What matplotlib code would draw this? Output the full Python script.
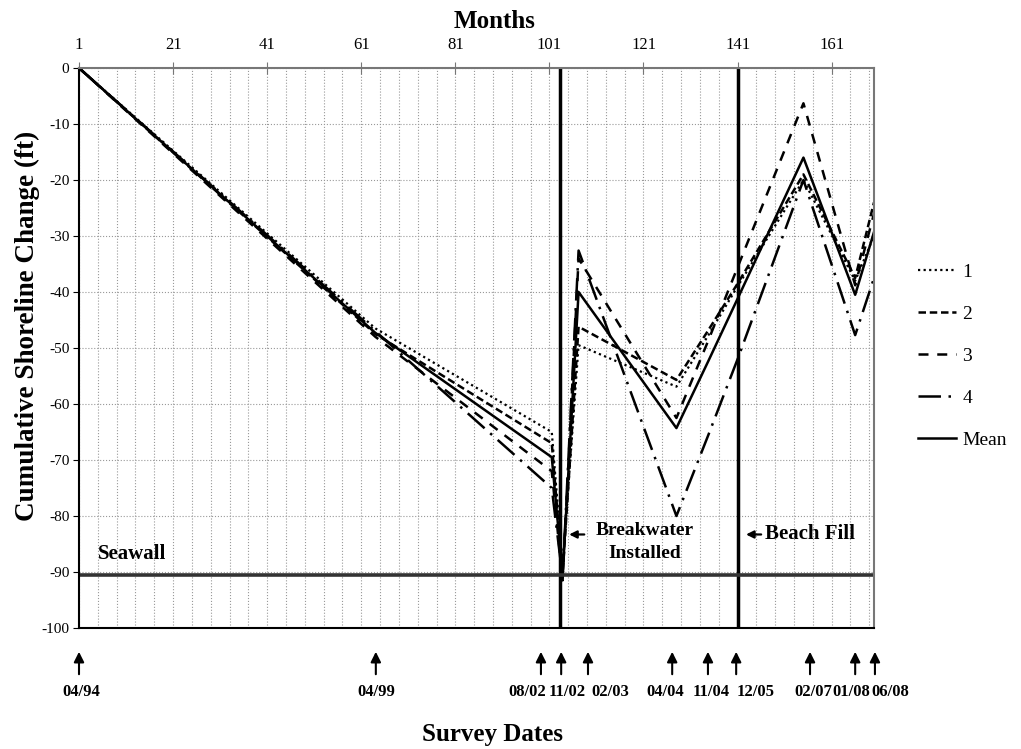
import numpy as np
import matplotlib
matplotlib.use("Agg")
import matplotlib.pyplot as plt
import matplotlib.transforms as mtransforms

plt.rcParams['font.family'] = ['Liberation Serif', 'DejaVu Serif']
plt.rcParams['axes.unicode_minus'] = False

# survey months (x) and cumulative shoreline change (ft) per profile
months = [1, 64, 101.5, 103.8, 107.2, 128, 134.8, 141, 155, 166, 170]
s1 = [0, -46.5, -65, -89, -49.5, -56.9, -47.7, -39, -20, -38, -30]
s2 = [0, -47.5, -67, -90.5, -46.2, -55.7, -46.8, -38.5, -19, -37.5, -24]
s3 = [0, -48, -72, -91.5, -34, -62.5, -48.6, -35.6, -6.3, -38.8, -26]
s4 = [0, -47, -75, -91, -32.6, -80, -65.5, -52, -20, -47.7, -37.5]
mean = [0, -47.3, -69.5, -90.5, -40, -64.3, -52.3, -41.2, -16, -40.5, -29.3]

breakwater_month = 103.3
beachfill_month = 141
seawall_level = -90.5

survey_labels = ['04/94', '04/99', '08/02', '11/02', '02/03', '04/04',
                 '11/04', '12/05', '02/07', '01/08', '06/08']
arrow_x = [1, 64.1, 99.2, 103.5, 109.2, 127.1, 134.7, 140.7, 156.4, 166.0, 170.2]
label_x = [1.4, 64.1, 96.2, 104.8, 113.9, 125.6, 135.4, 144.9, 157.0, 165.1, 173.4]

fig = plt.figure(figsize=(10.21, 7.49), dpi=100)
ax = fig.add_axes([79/1021, 1-628/749, 795/1021, 560/749])

ax.plot(months, s1, color='black', lw=1.6, ls=(0, (1, 1.5)), label='1')
ax.plot(months, s2, color='black', lw=1.8, ls=(0, (3, 1.5)), label='2')
ax.plot(months, s3, color='black', lw=1.8, ls=(0, (4, 3.5)), label='3')
ax.plot(months, s4, color='black', lw=1.8, ls=(0, (9, 3, 1, 3)), label='4')
ax.plot(months, mean, color='black', lw=1.8, label='Mean')

ax.axvline(breakwater_month, color='black', lw=2.5)
ax.axvline(beachfill_month, color='black', lw=2.5)
ax.axhline(seawall_level, color='#333333', lw=2.6)

ax.set_xlim(1, 170)
ax.set_ylim(-100, 0)
ax.xaxis.tick_top()
ax.set_xticks(np.arange(1, 171, 20))
ax.set_xticks(np.arange(1, 171, 4), minor=True)
ax.tick_params(axis='x', which='major', direction='inout', length=8, color='#777777',
               labelsize=12, pad=7)
ax.tick_params(axis='x', which='minor', length=0)
ax.set_yticks(np.arange(-100, 1, 10))
ax.tick_params(axis='y', direction='out', length=4, labelsize=11, pad=3)
ax.grid(which='both', axis='x', ls=':', color='#999999', lw=0.8)
ax.grid(which='major', axis='y', ls=':', color='#999999', lw=0.8)
ax.set_axisbelow(True)

for side in ['top', 'right']:
    ax.spines[side].set_color('#777777')
    ax.spines[side].set_linewidth(1.5)
for side in ['left', 'bottom']:
    ax.spines[side].set_color('black')
    ax.spines[side].set_linewidth(1.5)

ax.set_xlabel('Months', fontsize=18, fontweight='bold', labelpad=6)
ax.xaxis.set_label_position('top')
ax.xaxis.label.set_x(0.523)
ax.set_ylabel('Cumulative Shoreline Change (ft)', fontsize=19.5, fontweight='bold', labelpad=1)
ax.yaxis.label.set_y(0.54)

ax.text(5, -86.8, 'Seawall', fontsize=15, fontweight='bold', ha='left', va='center')
ax.annotate('', xy=(104.6, -83.3), xytext=(109.0, -83.3),
            arrowprops=dict(arrowstyle='-|>', color='black', lw=1.6, mutation_scale=11))
ax.text(121.2, -84.7, 'Breakwater\nInstalled', fontsize=14, fontweight='bold',
        ha='center', va='center', linespacing=1.45)
ax.annotate('', xy=(142.2, -83.3), xytext=(146.6, -83.3),
            arrowprops=dict(arrowstyle='-|>', color='black', lw=1.6, mutation_scale=11))
ax.text(146.8, -83.3, 'Beach Fill', fontsize=15, fontweight='bold', ha='left', va='center')

xfig = mtransforms.blended_transform_factory(ax.transData, fig.transFigure)
for a_x, lx, lab in zip(arrow_x, label_x, survey_labels):
    ax.annotate('', xy=(a_x, 1-649/749), xytext=(a_x, 1-677/749),
                xycoords=xfig, textcoords=xfig,
                arrowprops=dict(arrowstyle='-|>', color='black', lw=1.5, mutation_scale=15),
                annotation_clip=False)
    ax.text(lx, 1-692/749, lab, transform=xfig,
            fontsize=12, fontweight='bold', ha='center', va='center')

fig.text(492/1021, 1-735/749, 'Survey Dates', fontsize=18, fontweight='bold',
         ha='center', va='center')

fig.legend(loc='center left', bbox_to_anchor=(900/1021, 1-356/749), frameon=False,
           fontsize=14, handlelength=2.0, handletextpad=0.3, labelspacing=1.25)

fig.savefig('out.png', dpi=100)
